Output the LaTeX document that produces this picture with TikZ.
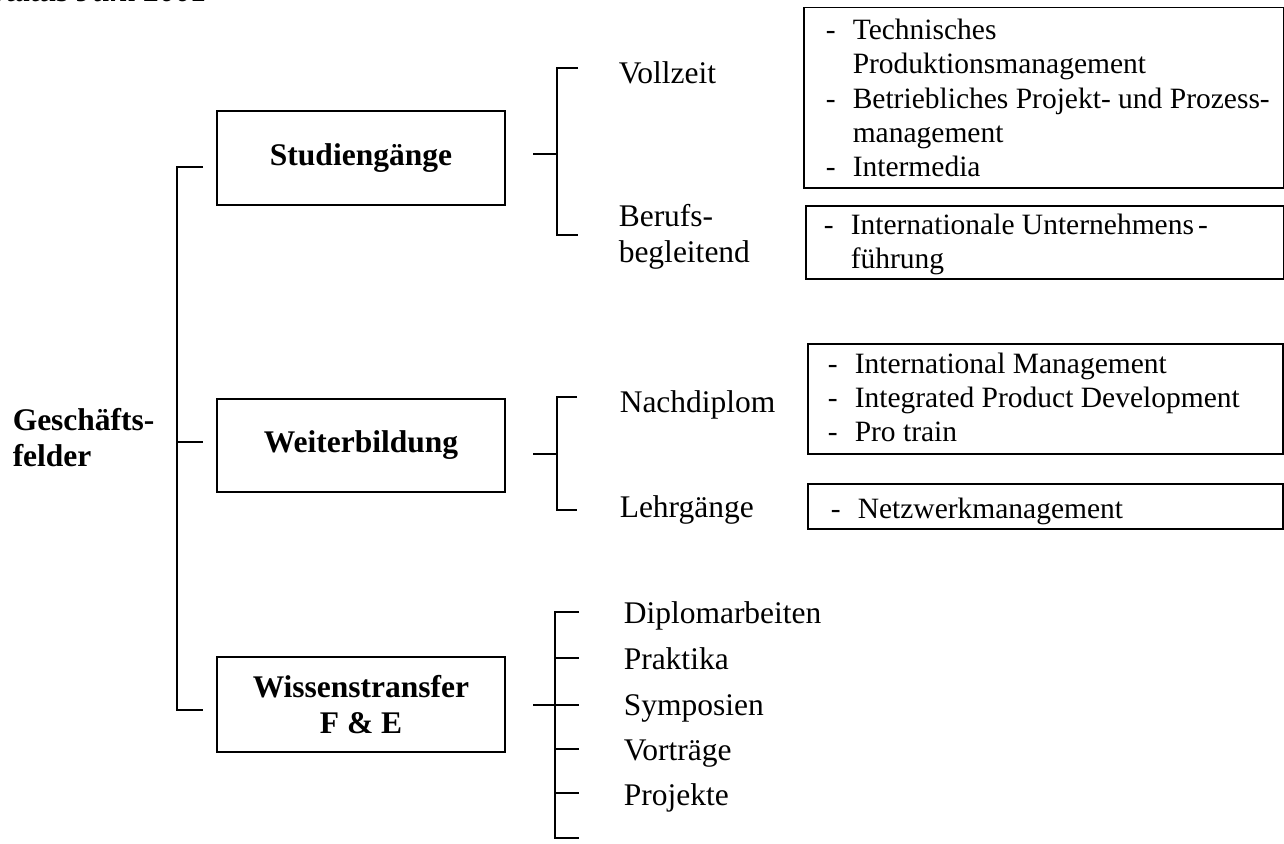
\documentclass[tikz,border=0pt]{standalone}
\usepackage{fontspec}
\setmainfont{Liberation Serif}
\begin{document}
\begin{tikzpicture}[x=1pt,y=-1pt,line width=1.5pt,
  mainbox/.style={draw,minimum width=288pt,minimum height=94pt,inner sep=0pt,
    font=\fontsize{31.5}{36}\selectfont\bfseries,align=center},
  listbox/.style={draw,inner sep=0pt,anchor=north west},
  lbl/.style={anchor=base west,inner sep=0pt,font=\fontsize{31.5}{36}\selectfont},
  blbl/.style={anchor=base west,inner sep=0pt,font=\fontsize{31.5}{36}\selectfont\bfseries},
  itm/.style={anchor=base west,inner sep=0pt,font=\fontsize{29.5}{34}\selectfont},
  dsh/.style={anchor=base west,inner sep=0pt,font=\fontsize{29.5}{34}\selectfont}]
\useasboundingbox (0,0) rectangle (1284,843);

% header (cut off at the top)
\node[anchor=base west,inner sep=0pt,font=\fontsize{31.5}{36}\selectfont\bfseries\itshape] (status) at (-12,2) {Status Juni 2001};

% left label
\node[blbl] (gf1) at (12,430) {Geschäfts-};
\node[blbl] (gf2) at (12,466) {felder};

% main boxes
\node[mainbox,minimum height=94pt] (stud) at (361,158) {Studiengänge};
\node[mainbox,minimum height=93pt] (weit) at (361,445.5) {Weiterbildung};
\node[mainbox,minimum height=95pt] (wiss) at (361,704.5) {Wissenstransfer\\F \& E};

% left bracket
\coordinate (la) at (203,167);
\coordinate (lb) at (203,442);
\coordinate (lc) at (203,710);
\draw (la) -- (177,167) -- (177,710) -- (lc);
\draw (177,442) -- (lb);

% Studiengaenge bracket
\coordinate (sa) at (533,154);
\coordinate (sv) at (557,154);
\coordinate (st1) at (578,68);
\coordinate (st2) at (578,235);
\draw (sa) -- (sv);
\draw (st1) -- (557,68) -- (557,235) -- (st2);
\node[lbl] (voll) at (618,83) {Vollzeit};
\node[lbl] (beruf1) at (618,226) {Berufs-};
\node[lbl] (beruf2) at (618,262) {begleitend};

% Weiterbildung bracket
\coordinate (wa) at (533,454);
\coordinate (wv) at (557,454);
\coordinate (wt1) at (577,397);
\coordinate (wt2) at (577,510);
\draw (wa) -- (wv);
\draw (wt1) -- (557,397) -- (557,510) -- (wt2);
\node[lbl] (nach) at (619,412) {Nachdiplom};
\node[lbl] (lehr) at (619,517) {Lehrgänge};

% Wissenstransfer bracket
\coordinate (xa) at (533,705);
\coordinate (xt1) at (579,612);
\coordinate (xt2) at (579,658);
\coordinate (xt3) at (579,705);
\coordinate (xt4) at (579,749);
\coordinate (xt5) at (579,793);
\coordinate (xt6) at (579,838);
\draw (xt1) -- (555,612) -- (555,838) -- (xt6);
\draw (xa) -- (xt3);
\draw (555,658) -- (xt2);
\draw (555,749) -- (xt4);
\draw (555,793) -- (xt5);
\node[lbl] (dipl) at (623,623) {Diplomarbeiten};
\node[lbl] (prak) at (623,669) {Praktika};
\node[lbl] (symp) at (623,715) {Symposien};
\node[lbl] (vort) at (623,760) {Vorträge};
\node[lbl] (proj) at (623,805) {Projekte};

% list boxes
\node[listbox,minimum width=480pt,minimum height=180pt] (lb1) at (803,7) {};
\node[dsh] (d11) at (825,40) {-};
\node[itm] (i11) at (852,40) {Technisches};
\node[itm] (i12) at (852,74) {Produktionsmanagement};
\node[dsh] (d13) at (825,108) {-};
\node[itm] (i13) at (852,108) {Betriebliches Projekt- und Prozess-};
\node[itm] (i14) at (852,142) {management};
\node[dsh] (d15) at (825,176) {-};
\node[itm] (i15) at (852,176) {Intermedia};

\node[listbox,minimum width=478pt,minimum height=73pt] (lb2) at (805,205) {};
\node[dsh] (d21) at (823,234) {-};
\node[itm] (i21) at (850,234) {Internationale Unternehmens\hspace{4pt}-};
\node[itm] (i22) at (850,268) {führung};

\node[listbox,minimum width=475pt,minimum height=110pt] (lb3) at (807,343) {};
\node[dsh] (d31) at (827,373) {-};
\node[itm] (i31) at (854,373) {International Management};
\node[dsh] (d32) at (827,407) {-};
\node[itm] (i32) at (854,407) {Integrated Product Development};
\node[dsh] (d33) at (827,441) {-};
\node[itm] (i33) at (854,441) {Pro train};

\node[listbox,minimum width=475pt,minimum height=45pt] (lb4) at (807,483) {};
\node[dsh] (d41) at (830,518) {-};
\node[itm] (i41) at (857,518) {Netzwerkmanagement};
\end{tikzpicture}
\end{document}
